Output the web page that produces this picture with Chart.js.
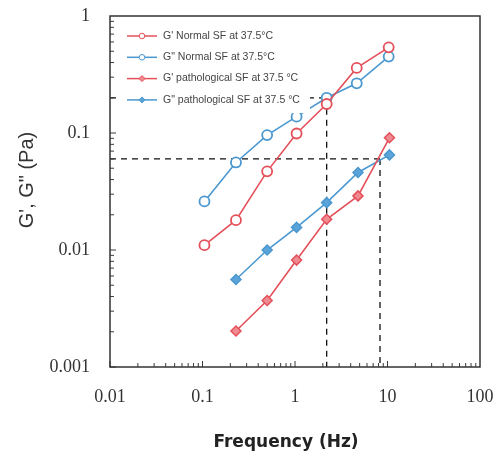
<!DOCTYPE html>
<html>
<head>
<meta charset="utf-8">
<script src="https://cdn.jsdelivr.net/npm/chart.js@4"></script>
<style>
  html, body { margin: 0; padding: 0; background: #fff; }
  #wrap { width: 504px; height: 457px; }
</style>
</head>
<body>
<div id="wrap"><canvas id="rheoChart"></canvas></div>
<script>
// ---- data ----
const freqNormal = [0.105, 0.23, 0.5, 1.04, 2.2, 4.65, 10.3];
const gStorageNormal = [0.011, 0.018, 0.047, 0.099, 0.177, 0.36, 0.54];
const gLossNormal = [0.026, 0.056, 0.096, 0.138, 0.2, 0.266, 0.45];

const freqPatho = [0.23, 0.5, 1.04, 2.2, 4.8, 10.5];
const gStoragePatho = [0.00203, 0.0037, 0.0082, 0.0183, 0.029, 0.091];
const gLossPatho = [0.0056, 0.01, 0.0156, 0.0254, 0.046, 0.065];

const seriesLabels = [
  "G' Normal SF at 37.5°C",
  'G" Normal SF at 37.5°C',
  "G' pathological SF at 37.5 °C",
  'G" pathological SF at 37.5 °C',
];

const xTitle = "Frequency (Hz)";
const yTitle = "G', G\" (Pa)";

// dashed guide lines
const guideLevels = [0.2, 0.06];
const guideFreqs = [2.2, 8.3];

const xTicks = [0.01, 0.1, 1, 10, 100];
const yTicks = [0.001, 0.01, 0.1, 1];

const RED = "#e4505a";
const BLUE = "#4b98d0";

function toPoints(xs, ys) {
  return xs.map((x, i) => ({ x: x, y: ys[i] }));
}

function guide(points) {
  return {
    label: "",
    data: points,
    borderColor: "#111",
    borderWidth: 1.3,
    borderDash: [6, 5],
    pointRadius: 0,
    fill: false,
    isGuide: true,
  };
}

// tick marks inside the frame, box, axis titles
const framePlugin = {
  id: "frame",
  afterDraw(chart) {
    const { ctx, chartArea: a, scales } = chart;
    ctx.save();
    ctx.strokeStyle = "#3a3a3a";
    ctx.lineWidth = 1;
    ctx.beginPath();
    for (let d = -2; d < 2; d++) {
      for (let k = 1; k <= 9; k++) {
        const px = scales.x.getPixelForValue(k * Math.pow(10, d));
        const len = k === 1 ? 6 : 4;
        ctx.moveTo(px, a.bottom);
        ctx.lineTo(px, a.bottom - len);
      }
    }
    for (let d = -3; d < 0; d++) {
      for (let k = 1; k <= 9; k++) {
        const py = scales.y.getPixelForValue(k * Math.pow(10, d));
        const len = k === 1 ? 6 : 4;
        ctx.moveTo(a.left, py);
        ctx.lineTo(a.left + len, py);
      }
    }
    ctx.stroke();
    ctx.lineWidth = 1.5;
    ctx.strokeStyle = "#333";
    ctx.strokeRect(a.left, a.top, a.right - a.left, a.bottom - a.top);

    ctx.textAlign = "center";
    ctx.textBaseline = "middle";
    ctx.fillStyle = "#222";
    ctx.font = "bold 17px 'DejaVu Sans', Verdana, sans-serif";
    ctx.fillText(xTitle, a.left + 176, 443);

    ctx.fillStyle = "#333";
    ctx.font = "20px 'Liberation Sans', Arial, sans-serif";
    ctx.translate(27, 180);
    ctx.rotate(-Math.PI / 2);
    ctx.fillText(yTitle, 0, 0);
    ctx.restore();
  },
};

// legend drawn on a white box in the upper left of the plot
const boxLegend = {
  id: "boxLegend",
  afterDatasetsDraw(chart) {
    const { ctx, chartArea: a } = chart;
    const x0 = a.left + 8, y0 = a.top + 4;
    ctx.save();
    ctx.fillStyle = "#fff";
    ctx.fillRect(x0, y0, 192, 93);
    ctx.font = "10.5px 'Liberation Sans', Arial, sans-serif";
    ctx.textBaseline = "middle";
    chart.data.datasets.forEach((ds, i) => {
      if (ds.isGuide) return;
      const y = a.top + 20 + i * 21.3;
      const lx = a.left + 17;
      ctx.strokeStyle = ds.borderColor;
      ctx.lineWidth = 1.5;
      ctx.beginPath();
      ctx.moveTo(lx, y);
      ctx.lineTo(lx + 30, y);
      ctx.stroke();
      ctx.fillStyle = ds.pointBackgroundColor;
      ctx.beginPath();
      if (ds.pointStyle === "circle") {
        ctx.arc(lx + 15, y, 2.8, 0, Math.PI * 2);
      } else {
        ctx.moveTo(lx + 15, y - 3);
        ctx.lineTo(lx + 18, y);
        ctx.lineTo(lx + 15, y + 3);
        ctx.lineTo(lx + 12, y);
        ctx.closePath();
      }
      ctx.fill();
      ctx.lineWidth = 1;
      ctx.stroke();
      ctx.fillStyle = "#444";
      ctx.fillText(ds.label, lx + 36, y);
    });
    ctx.restore();
  },
};

const ctx = document.getElementById("rheoChart").getContext("2d");

new Chart(ctx, {
  type: "line",
  data: {
    datasets: [
      {
        label: seriesLabels[0],
        data: toPoints(freqNormal, gStorageNormal),
        borderColor: RED,
        borderWidth: 1.6,
        pointStyle: "circle",
        pointRadius: 5,
        pointBorderWidth: 1.8,
        pointBackgroundColor: "#fff",
        pointBorderColor: RED,
      },
      {
        label: seriesLabels[1],
        data: toPoints(freqNormal, gLossNormal),
        borderColor: BLUE,
        borderWidth: 1.6,
        pointStyle: "circle",
        pointRadius: 5,
        pointBorderWidth: 1.8,
        pointBackgroundColor: "#fff",
        pointBorderColor: BLUE,
      },
      {
        label: seriesLabels[2],
        data: toPoints(freqPatho, gStoragePatho),
        borderColor: RED,
        borderWidth: 1.6,
        pointStyle: "rectRot",
        pointRadius: 5,
        pointBorderWidth: 1.5,
        pointBackgroundColor: "#ef8a90",
        pointBorderColor: RED,
      },
      {
        label: seriesLabels[3],
        data: toPoints(freqPatho, gLossPatho),
        borderColor: BLUE,
        borderWidth: 1.6,
        pointStyle: "rectRot",
        pointRadius: 5,
        pointBorderWidth: 1.5,
        pointBackgroundColor: "#5aa4da",
        pointBorderColor: BLUE,
      },
      guide([{ x: xTicks[0], y: guideLevels[0] }, { x: guideFreqs[0], y: guideLevels[0] }]),
      guide([{ x: guideFreqs[0], y: guideLevels[0] }, { x: guideFreqs[0], y: yTicks[0] }]),
      guide([{ x: xTicks[0], y: guideLevels[1] }, { x: guideFreqs[1], y: guideLevels[1] }]),
      guide([{ x: guideFreqs[1], y: guideLevels[1] }, { x: guideFreqs[1], y: yTicks[0] }]),
    ],
  },
  options: {
    responsive: true,
    maintainAspectRatio: false,
    animation: false,
    layout: {
      padding: { top: 16, right: 24, bottom: 0, left: 0 },
    },
    scales: {
      x: {
        type: "logarithmic",
        min: 0.01,
        max: 100,
        afterBuildTicks: (s) => {
          s.ticks = xTicks.map((v) => ({ value: v }));
        },
        afterFit: (s) => {
          s.height = 90;
          s.paddingLeft = 0;
          s.paddingRight = 0;
        },
        grid: { display: false, drawTicks: false },
        border: { display: false },
        ticks: {
          autoSkip: false,
          maxRotation: 0,
          padding: 19,
          color: "#333",
          font: { family: "'Liberation Serif', 'Times New Roman', serif", size: 18 },
          callback: (v) => String(v),
        },
      },
      y: {
        type: "logarithmic",
        min: 0.001,
        max: 1,
        afterBuildTicks: (s) => {
          s.ticks = yTicks.map((v) => ({ value: v }));
        },
        afterFit: (s) => {
          s.width = 110;
          s.paddingTop = 0;
          s.paddingBottom = 0;
        },
        grid: { display: false, drawTicks: false },
        border: { display: false },
        ticks: {
          autoSkip: false,
          padding: 20,
          color: "#333",
          font: { family: "'Liberation Serif', 'Times New Roman', serif", size: 18 },
          callback: (v) => String(v),
        },
      },
    },
    plugins: {
      legend: { display: false },
      tooltip: { enabled: false },
    },
  },
  plugins: [framePlugin, boxLegend],
});
</script>
</body>
</html>
